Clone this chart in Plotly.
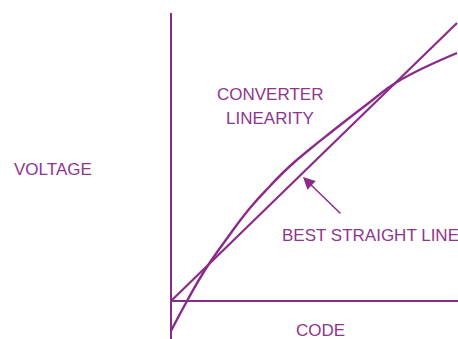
import plotly.graph_objects as go

# Converter output (curved) and best straight line
code_curve = [0, 16, 34, 57, 79, 99, 119, 139, 159, 199, 226, 286]
voltage_curve = [-30, 0, 31, 64, 93, 115, 135, 152, 168, 199, 219, 248]

code_line = [0, 286]
voltage_line = [0, 278]

purple = "#8a2b8a"
text_purple = "#8f358d"
font = dict(family="Liberation Sans, Arial", size=17, color=text_purple)

fig = go.Figure()

fig.add_trace(go.Scatter(x=code_curve, y=voltage_curve, mode="lines",
                         line=dict(color=purple, width=2.4, shape="spline", smoothing=1.3),
                         hoverinfo="skip"))
fig.add_trace(go.Scatter(x=code_line, y=voltage_line, mode="lines",
                         line=dict(color=purple, width=2.2),
                         hoverinfo="skip"))

# hand-drawn axes
fig.add_shape(type="line", x0=0, x1=0, y0=-40, y1=288, line=dict(color=purple, width=2))
fig.add_shape(type="line", x0=0, x1=290, y0=0, y1=0, line=dict(color=purple, width=2))

fig.add_annotation(x=-118, y=132, text="VOLTAGE", showarrow=False, font=font)
fig.add_annotation(x=99, y=207, text="CONVERTER", showarrow=False, font=font)
fig.add_annotation(x=99, y=183, text="LINEARITY", showarrow=False, font=font)
fig.add_annotation(x=109, y=66, text="BEST STRAIGHT LINE", showarrow=False,
                   xanchor="left", font=font)
fig.add_annotation(x=149, y=-29, text="CODE", showarrow=False, font=font)

# arrow pointing at the straight line
fig.add_annotation(x=132, y=124, ax=39, ay=38, text="", showarrow=True,
                   arrowhead=2, arrowsize=1.6, arrowwidth=1.5, arrowcolor=purple)

fig.update_layout(
    width=458, height=339,
    margin=dict(l=0, r=0, t=0, b=0),
    paper_bgcolor="white", plot_bgcolor="white",
    showlegend=False,
    xaxis=dict(range=[-171, 287], visible=False, fixedrange=True),
    yaxis=dict(range=[-38, 301], visible=False, fixedrange=True),
)

fig.write_html("out.html", config={"displayModeBar": False},
               post_script="document.body.style.margin='0';")
